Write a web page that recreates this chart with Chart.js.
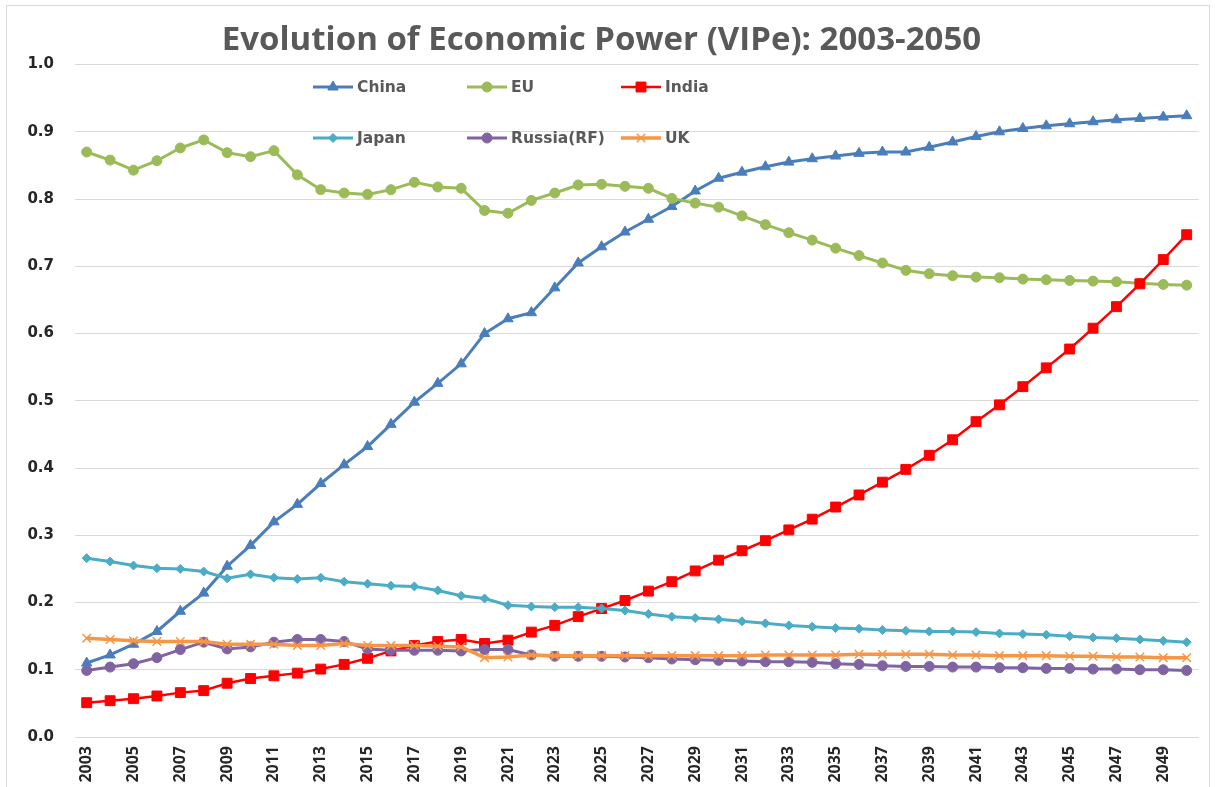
<!DOCTYPE html>
<html>
<head>
<meta charset="utf-8">
<script src="https://cdn.jsdelivr.net/npm/chart.js@4"></script>
<style>
  html, body { margin: 0; padding: 0; background: #fff; }
  #wrap { position: relative; width: 1215px; height: 787px; overflow: hidden; }
  #frame { position: absolute; left: 6px; top: 5px; width: 1202px; height: 800px; border: 1px solid #d9d9d9; pointer-events: none; }
  canvas { position: absolute; left: 0; top: 0; }
</style>
</head>
<body>
<div id="wrap">
  <canvas id="c" width="1215" height="787"></canvas>
  <div id="frame"></div>
</div>
<script>
const chartTitle = 'Evolution of Economic Power (VIPe): 2003-2050';

const years = ['2003','2004','2005','2006','2007','2008','2009','2010','2011','2012',
  '2013','2014','2015','2016','2017','2018','2019','2020','2021','2022',
  '2023','2024','2025','2026','2027','2028','2029','2030','2031','2032',
  '2033','2034','2035','2036','2037','2038','2039','2040','2041','2042',
  '2043','2044','2045','2046','2047','2048','2049','2050'];

const china = [0.110,0.122,0.138,0.157,0.187,0.214,0.254,0.285,0.320,0.346,
  0.377,0.405,0.432,0.465,0.498,0.526,0.555,0.600,0.622,0.631,
  0.668,0.705,0.729,0.751,0.770,0.789,0.812,0.831,0.840,0.848,
  0.855,0.860,0.864,0.868,0.870,0.870,0.877,0.885,0.893,0.900,
  0.905,0.909,0.912,0.915,0.918,0.920,0.922,0.924];

const eu = [0.870,0.858,0.843,0.857,0.876,0.888,0.869,0.863,0.872,0.836,
  0.814,0.809,0.807,0.814,0.825,0.818,0.816,0.783,0.779,0.798,
  0.809,0.821,0.822,0.819,0.816,0.801,0.794,0.788,0.775,0.762,
  0.750,0.739,0.727,0.716,0.705,0.694,0.689,0.686,0.684,0.683,
  0.681,0.680,0.679,0.678,0.677,0.675,0.673,0.672];

const india = [0.051,0.054,0.057,0.061,0.066,0.069,0.080,0.087,0.091,0.095,
  0.101,0.108,0.117,0.128,0.136,0.142,0.145,0.139,0.144,0.156,
  0.166,0.179,0.191,0.203,0.217,0.231,0.247,0.263,0.277,0.292,
  0.308,0.324,0.342,0.360,0.379,0.398,0.419,0.442,0.469,0.494,
  0.521,0.549,0.577,0.608,0.640,0.674,0.710,0.747];

const japan = [0.266,0.261,0.255,0.251,0.250,0.246,0.236,0.242,0.237,0.235,
  0.237,0.231,0.228,0.225,0.224,0.218,0.210,0.206,0.196,0.194,
  0.193,0.193,0.191,0.188,0.183,0.179,0.177,0.175,0.172,0.169,
  0.166,0.164,0.162,0.161,0.159,0.158,0.157,0.157,0.156,0.154,
  0.153,0.152,0.150,0.148,0.147,0.145,0.143,0.141];

const russia = [0.099,0.104,0.109,0.118,0.130,0.141,0.131,0.134,0.141,0.145,
  0.145,0.142,0.131,0.129,0.129,0.129,0.128,0.130,0.130,0.122,
  0.120,0.120,0.120,0.119,0.118,0.116,0.115,0.114,0.113,0.112,
  0.112,0.111,0.109,0.108,0.106,0.105,0.105,0.104,0.104,0.103,
  0.103,0.102,0.102,0.101,0.101,0.100,0.100,0.099];

const uk = [0.147,0.145,0.143,0.142,0.142,0.142,0.138,0.138,0.138,0.136,
  0.136,0.139,0.136,0.136,0.136,0.135,0.134,0.118,0.119,0.122,
  0.121,0.121,0.121,0.121,0.121,0.121,0.121,0.121,0.121,0.122,
  0.122,0.122,0.122,0.123,0.123,0.123,0.123,0.122,0.122,0.121,
  0.121,0.121,0.120,0.120,0.119,0.119,0.118,0.118];

const yTicks = [0.0,0.1,0.2,0.3,0.4,0.5,0.6,0.7,0.8,0.9,1.0];

const seriesNames = ['China','EU','India','Japan','Russia(RF)','UK'];

function ds(label, data, color, style, radius, width, order, extra) {
  return Object.assign({
    label, data,
    borderColor: color, backgroundColor: color,
    pointBackgroundColor: color, pointBorderColor: color,
    pointStyle: style, pointRadius: radius, pointHoverRadius: radius,
    pointBorderWidth: 1, borderWidth: width, tension: 0, order
  }, extra || {});
}

const datasets = [
  ds(seriesNames[0], china,  '#4A7EBB', 'triangle', 6,   3,   6),
  ds(seriesNames[1], eu,     '#9BBB59', 'circle',   5,   3,   5),
  ds(seriesNames[2], india,  '#FF0000', 'rect',     7,   2.5, 4),
  ds(seriesNames[3], japan,  '#4BACC6', 'rectRot',  4.5, 3,   3),
  ds(seriesNames[4], russia, '#8064A2', 'circle',   5,   3,   2),
  ds(seriesNames[5], uk,     '#F79646', 'crossRot', 6,   3.5, 1, {pointBorderWidth: 1.5})
];

const legendPlugin = {
  id: 'customLegend',
  afterDatasetsDraw(chart) {
    const ctx = chart.ctx;
    const cols = [313, 467, 621];
    const rows = [87, 138];
    ctx.save();
    chart.data.datasets.forEach((d, i) => {
      const x = cols[i % 3], y = rows[Math.floor(i / 3)];
      ctx.strokeStyle = d.borderColor;
      ctx.lineWidth = d.borderWidth;
      ctx.beginPath();
      ctx.moveTo(x, y); ctx.lineTo(x + 40, y);
      ctx.stroke();
      ctx.fillStyle = d.pointBackgroundColor;
      ctx.strokeStyle = d.pointBorderColor;
      ctx.lineWidth = d.pointBorderWidth;
      Chart.helpers.drawPoint(ctx, {pointStyle: d.pointStyle, radius: d.pointRadius, rotation: 0, borderWidth: d.pointBorderWidth}, x + 20, y);
      ctx.fillStyle = '#595959';
      ctx.font = 'bold 15.5px "DejaVu Sans"';
      ctx.textAlign = 'left';
      ctx.textBaseline = 'middle';
      ctx.fillText(d.label, x + 44, y + 1);
    });
    ctx.restore();
  }
};

new Chart(document.getElementById('c'), {
  type: 'line',
  data: { labels: years, datasets },
  plugins: [legendPlugin],
  options: {
    responsive: false,
    devicePixelRatio: 1,
    animation: false,
    layout: { padding: { left: 0, right: 12, top: 0, bottom: 0 } },
    plugins: {
      legend: { display: false },
      tooltip: { enabled: false },
      title: {
        display: true,
        text: chartTitle,
        color: '#595959',
        font: { family: '"Open Sans"', size: 33, weight: 'bold' },
        padding: { top: 21, bottom: 4 }
      }
    },
    scales: {
      x: {
        offset: true,
        grid: { display: false, drawTicks: false },
        border: { display: false },
        ticks: {
          autoSkip: false, maxRotation: 90, minRotation: 90, padding: 9,
          color: '#262626',
          font: { family: '"Open Sans"', size: 16, weight: 'bold' },
          callback: (v, i) => (i % 2 === 0 ? years[i] : '')
        },
        afterFit: (s) => { s.height = 50; }
      },
      y: {
        min: 0, max: 1,
        afterBuildTicks: (s) => { s.ticks = yTicks.map(v => ({ value: v })); },
        grid: { color: '#D9D9D9', lineWidth: 1, drawTicks: false },
        border: { display: false },
        ticks: {
          padding: 21,
          color: '#262626',
          font: { family: '"DejaVu Sans"', size: 15, weight: 'bold' },
          callback: (v) => Number(v).toFixed(1)
        },
        afterFit: (s) => { s.width = 75; }
      }
    }
  }
});
</script>
</body>
</html>
